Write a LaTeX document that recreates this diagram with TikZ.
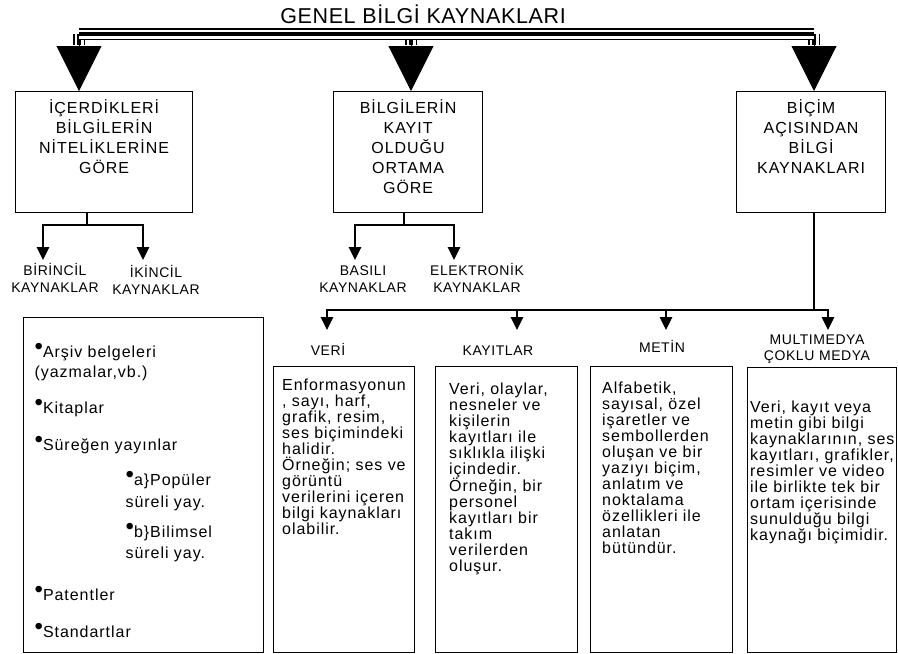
\documentclass[tikz,border=0pt]{standalone}
\usepackage{fontspec}
\setmainfont{Liberation Sans}[LetterSpace=4]
\newfontfamily\boxfont{Liberation Sans}[LetterSpace=6]
\newfontfamily\titlefont{Liberation Sans}[LetterSpace=3]
\usetikzlibrary{arrows.meta, calc}
\newcommand{\itembul}{\raisebox{3.5pt}{\fontsize{24}{24}\selectfont •}}

\begin{document}
\begin{tikzpicture}[x=1pt, y=-1pt,
  conn/.style={line width=1.2pt},
  arr/.style={conn, -{Triangle[width=12.5pt,length=13pt]}},
  bigarr/.style={line width=1pt, -{Triangle[width=45pt,length=45pt]}},
  tripleline/.style={line width=12.5pt, postaction={draw=white, line width=9pt}, postaction={draw=black, line width=4.5pt}},
  catbox/.style={draw, line width=1.2pt, anchor=north west, align=center, inner sep=0pt,
    text height=22pt, text depth=99pt, font=\boxfont\fontsize{16}{20}\selectfont},
  descbox/.style={draw, line width=1.2pt, anchor=north west, inner sep=0pt, minimum height=286pt},
  desctext/.style={anchor=north west, align=left, inner sep=0pt, text width=180pt,
    font=\boxfont\fontsize{16}{16}\selectfont},
  lbl/.style={anchor=base, align=center, inner sep=0pt, text width=110pt, font=\fontsize{14}{17}\selectfont}]
  \useasboundingbox (0,0) rectangle (898,654);
  \fill[white] (0,0) rectangle (898,654);

  % title and the three main groups
  \node[anchor=base, font=\titlefont\fontsize{21.5}{21.5}\selectfont] (title) at (423,23) {GENEL BİLGİ KAYNAKLARI};
  \node[catbox, text width=177pt] (icerik) at (15,91) {İÇERDİKLERİ\\BİLGİLERİN\\NİTELİKLERİNE\\GÖRE};
  \node[catbox, text width=149pt] (ortam) at (333,91) {BİLGİLERİN\\KAYIT\\OLDUĞU\\ORTAMA\\GÖRE};
  \node[catbox, text width=149pt] (bicim) at (736,91) {BİÇİM\\AÇISINDAN\\BİLGİ\\KAYNAKLARI};

  \foreach \n/\x in {1/79, 2/411, 3/814} {
    \coordinate (h\n) at (\x,34);
    \coordinate (s\n) at (\x,45);
    \draw[tripleline] (h\n) -- (s\n);
  }
  \draw[tripleline] (h1) -- (h3);
  \draw[bigarr] (s1) -- (s1 |- icerik.north);
  \draw[bigarr] (s2) -- (s2 |- ortam.north);
  \draw[bigarr] (s3) -- (s3 |- bicim.north);

  % second level
  \node[lbl] (birincil) at (55,275) {BİRİNCİL\\KAYNAKLAR};
  \node[lbl] (ikincil) at (156,277) {İKİNCİL\\KAYNAKLAR};
  \node[lbl] (basili) at (363,275) {BASILI\\KAYNAKLAR};
  \node[lbl] (elektronik) at (477,275) {ELEKTRONİK\\KAYNAKLAR};

  \coordinate (j1) at (87,225);
  \coordinate (j2) at (404,225);
  \coordinate (a1) at (43,260);
  \coordinate (a2) at (143,260);
  \coordinate (a3) at (355,260);
  \coordinate (a4) at (454,260);
  \draw[conn] (icerik.south -| j1) -- (j1);
  \draw[arr] (j1) -| (a1);
  \draw[arr] (j1) -| (a2);
  \draw[conn] (ortam.south -| j2) -- (j2);
  \draw[arr] (j2) -| (a3);
  \draw[arr] (j2) -| (a4);

  % form branches
  \node[lbl] (veri) at (328,355) {VERİ};
  \node[lbl] (kayitlar) at (498,355) {KAYITLAR};
  \node[lbl] (metin) at (662,352) {METİN};
  \node[lbl, font=\fontsize{14}{16}\selectfont] (multimedya) at (817,344) {MULTIMEDYA\\ÇOKLU MEDYA};

  \coordinate (j3) at (814,310);
  \foreach \n/\x in {1/327, 2/517, 3/666, 4/828} {
    \coordinate (t\n) at (\x,310);
    \coordinate (e\n) at (\x,330);
  }
  \draw[conn] (bicim.south -| j3) -- (j3);
  \draw[arr] (j3) -| (e1);
  \draw[arr] (j3) -| (e4);
  \draw[arr] (t2) -- (e2);
  \draw[arr] (t3) -- (e3);

  % description boxes
  \node[descbox, align=left, inner xsep=11pt, text width=218pt, text height=40pt, text depth=295pt,
    font=\boxfont\fontsize{16}{20}\selectfont] (kaynaklist) at (23,317) {%
    \itembul Arşiv belgeleri\\
    (yazmalar,vb.)\\[16pt]
    \itembul Kitaplar\\[17pt]
    \itembul Süreğen yayınlar\\[15pt]
    \hspace*{91pt}\itembul a\}Popüler\\[2pt]
    \hspace*{91pt}süreli yay.\\[10pt]
    \hspace*{91pt}\itembul b\}Bilimsel\\[1pt]
    \hspace*{91pt}süreli yay.\\[22pt]
    \itembul Patentler\\[17pt]
    \itembul Standartlar};

  \node[descbox, minimum width=141pt] (veribox) at (273,366) {};
  \node[desctext, text height=24pt] (veritext) at ($(veribox.north west)+(9,0)$) {%
    Enformasyonun\\, sayı, harf,\\grafik, resim,\\ses biçimindeki\\halidir.\\Örneğin; ses ve\\görüntü\\verilerini içeren\\bilgi kaynakları\\olabilir.};
  \node[descbox, minimum width=142pt] (kayitbox) at (435,366) {};
  \node[desctext, text height=28pt] (kayittext) at ($(kayitbox.north west)+(14,0)$) {%
    Veri, olaylar,\\nesneler ve\\kişilerin\\kayıtları ile\\sıklıkla ilişki\\içindedir.\\Örneğin, bir\\personel\\kayıtları bir\\takım\\verilerden\\oluşur.};
  \node[descbox, minimum width=142pt] (metinbox) at (590,366) {};
  \node[desctext, text height=27pt] (metintext) at ($(metinbox.north west)+(12,0)$) {%
    Alfabetik,\\sayısal, özel\\işaretler ve\\sembollerden\\oluşan ve bir\\yazıyı biçim,\\anlatım ve\\noktalama\\özellikleri ile\\anlatan\\bütündür.};
  \node[descbox, minimum width=149pt, minimum height=285pt] (multibox) at (747,367) {};
  \node[desctext, text height=45pt] (multitext) at ($(multibox.north west)+(3,0)$) {%
    Veri, kayıt veya\\metin gibi bilgi\\kaynaklarının, ses\\kayıtları, grafikler,\\resimler ve video\\ile birlikte tek bir\\ortam içerisinde\\sunulduğu bilgi\\kaynağı biçimidir.};
\end{tikzpicture}
\end{document}
